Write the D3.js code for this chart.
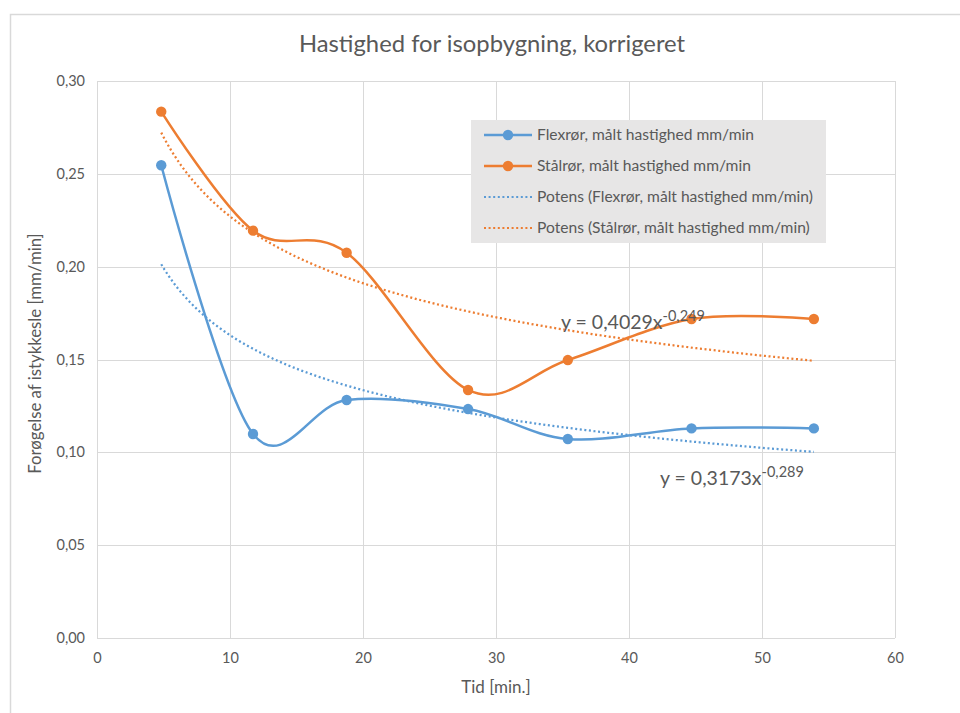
<!DOCTYPE html>
<html lang="da">
<head>
  <meta charset="UTF-8">
  <script src="https://d3js.org/d3.v7.min.js"></script>
  <style>
    body { margin: 0; background: #fff; }
    text { font-family: Lato, "Open Sans", sans-serif; fill: #595959; }
  </style>
</head>
<body>
<div id="my_dataviz"></div>
<script>
// data
var tid = [4.83, 11.73, 18.77, 27.9, 35.4, 44.7, 53.9];
var flexror = [0.2546, 0.1099, 0.1282, 0.1233, 0.1072, 0.1129, 0.1129];
var stalror = [0.2835, 0.2194, 0.2075, 0.1336, 0.1497, 0.1718, 0.1718];
var seriesNames = ["Flexrør, målt hastighed mm/min", "Stålrør, målt hastighed mm/min"];
var trendNames = ["Potens (Flexrør, målt hastighed mm/min)", "Potens (Stålrør, målt hastighed mm/min)"];
// power trendlines as printed on the chart: y = a * x^b
var trendA = [0.3173, 0.4029];
var trendB = [-0.289, -0.249];
var xTicks = [0, 10, 20, 30, 40, 50, 60];
var yTicks = [0, 0.05, 0.10, 0.15, 0.20, 0.25, 0.30];
var colors = ["#5B9BD5", "#ED7D31"];

var W = 960, H = 713;
var marginLeft = 97, marginRight = 65, marginTop = 81, marginBottom = 75;
var width = W - marginLeft - marginRight;
var height = H - marginTop - marginBottom;

var root = d3.select("#my_dataviz").append("svg")
  .attr("width", W).attr("height", H);

// chart frame
root.append("rect")
  .attr("x", 10.5).attr("y", 14.5)
  .attr("width", 970).attr("height", 720)
  .attr("fill", "#fff").attr("stroke", "#d9d9d9").attr("stroke-width", 1.5);

root.append("text")
  .attr("x", 492).attr("y", 52)
  .attr("text-anchor", "middle")
  .style("font-size", "23.8px")
  .text("Hastighed for isopbygning, korrigeret");

var svg = root.append("g")
  .attr("transform", "translate(" + marginLeft + "," + marginTop + ")");

var x = d3.scaleLinear().domain([0, 60]).range([0, width]);
var y = d3.scaleLinear().domain([0, 0.30]).range([height, 0]);
var fmt = function(d) { return d3.format(".2f")(d).replace(".", ","); };

// gridlines
svg.append("g")
  .selectAll("line").data(xTicks).enter().append("line")
  .attr("x1", function(d) { return Math.round(x(d)) + 0.5; })
  .attr("x2", function(d) { return Math.round(x(d)) + 0.5; })
  .attr("y1", 0).attr("y2", height)
  .attr("stroke", "#d9d9d9").attr("stroke-width", 1);
svg.append("g")
  .selectAll("line").data(yTicks).enter().append("line")
  .attr("x1", 0).attr("x2", width)
  .attr("y1", function(d) { return Math.round(y(d)) + 0.5; })
  .attr("y2", function(d) { return Math.round(y(d)) + 0.5; })
  .attr("stroke", "#d9d9d9").attr("stroke-width", 1);

// axes (labels only, lines come from the grid)
var xAxis = svg.append("g")
  .attr("transform", "translate(0," + height + ")")
  .call(d3.axisBottom(x).tickValues(xTicks).tickSize(0).tickPadding(15));
var yAxis = svg.append("g")
  .call(d3.axisLeft(y).tickValues(yTicks).tickFormat(fmt).tickSize(0).tickPadding(12));
[xAxis, yAxis].forEach(function(a) {
  a.select(".domain").remove();
  a.selectAll("text").style("font-size", "14.5px").style("font-family", "Lato, sans-serif").attr("fill", "#595959");
});

// axis titles
root.append("text")
  .attr("x", marginLeft + width / 2).attr("y", 693)
  .attr("text-anchor", "middle").style("font-size", "17px")
  .text("Tid [min.]");
root.append("text")
  .attr("transform", "translate(41," + (marginTop + height / 2 - 6) + ")rotate(-90)")
  .attr("text-anchor", "middle").style("font-size", "16.8px")
  .text("Forøgelse af istykkesle [mm/min]");

var seriesData = [flexror, stalror].map(function(vals) {
  return vals.map(function(v, i) { return { x: tid[i], y: v }; });
});

// trendlines, sampled along the x range of the data
var xs = d3.range(0, 201).map(function(i) { return tid[0] + (tid[tid.length - 1] - tid[0]) * i / 200; });
var line = d3.line()
  .x(function(d) { return x(d.x); })
  .y(function(d) { return y(d.y); });
trendA.forEach(function(a, k) {
  var pts = xs.map(function(t) { return { x: t, y: a * Math.pow(t, trendB[k]) }; });
  svg.append("path")
    .datum(pts)
    .attr("d", line)
    .attr("fill", "none")
    .attr("stroke", colors[k])
    .attr("stroke-width", 2.25)
    .attr("stroke-dasharray", "2,2.6");
});

// smoothed data lines with markers
var smooth = d3.line()
  .curve(d3.curveCatmullRom.alpha(0))
  .x(function(d) { return x(d.x); })
  .y(function(d) { return y(d.y); });
seriesData.forEach(function(pts, k) {
  svg.append("path")
    .datum(pts)
    .attr("d", smooth)
    .attr("fill", "none")
    .attr("stroke", colors[k])
    .attr("stroke-width", 2.5);
  svg.selectAll(null)
    .data(pts).enter().append("circle")
    .attr("cx", function(d) { return x(d.x); })
    .attr("cy", function(d) { return y(d.y); })
    .attr("r", 5.2)
    .attr("fill", colors[k]);
});

// trendline equations
function equation(px, py, a, b) {
  var t = root.append("text").attr("x", px).attr("y", py).style("font-size", "19.5px");
  t.append("tspan").text("y = " + String(a).replace(".", ",") + "x");
  t.append("tspan").attr("dy", -8).style("font-size", "14.5px").text(String(b).replace(".", ","));
}
equation(561, 329, trendA[1], trendB[1]);
equation(660, 485, trendA[0], trendB[0]);

// legend
var lg = root.append("g").attr("transform", "translate(471,120)");
lg.append("rect").attr("width", 355).attr("height", 123).attr("fill", "#e7e6e6");
var entries = [
  { name: seriesNames[0], color: colors[0], dotted: false },
  { name: seriesNames[1], color: colors[1], dotted: false },
  { name: trendNames[0], color: colors[0], dotted: true },
  { name: trendNames[1], color: colors[1], dotted: true }
];
entries.forEach(function(e, i) {
  var cy = 15 + i * 31;
  lg.append("line")
    .attr("x1", 13).attr("x2", 61).attr("y1", cy).attr("y2", cy)
    .attr("stroke", e.color)
    .attr("stroke-width", e.dotted ? 2 : 2.5)
    .attr("stroke-dasharray", e.dotted ? "2,2.6" : null);
  if (!e.dotted) {
    lg.append("circle").attr("cx", 37).attr("cy", cy).attr("r", 5.2).attr("fill", e.color);
  }
  lg.append("text")
    .attr("x", 66).attr("y", cy + 5)
    .style("font-size", "15.6px")
    .text(e.name);
});
</script>
</body>
</html>
